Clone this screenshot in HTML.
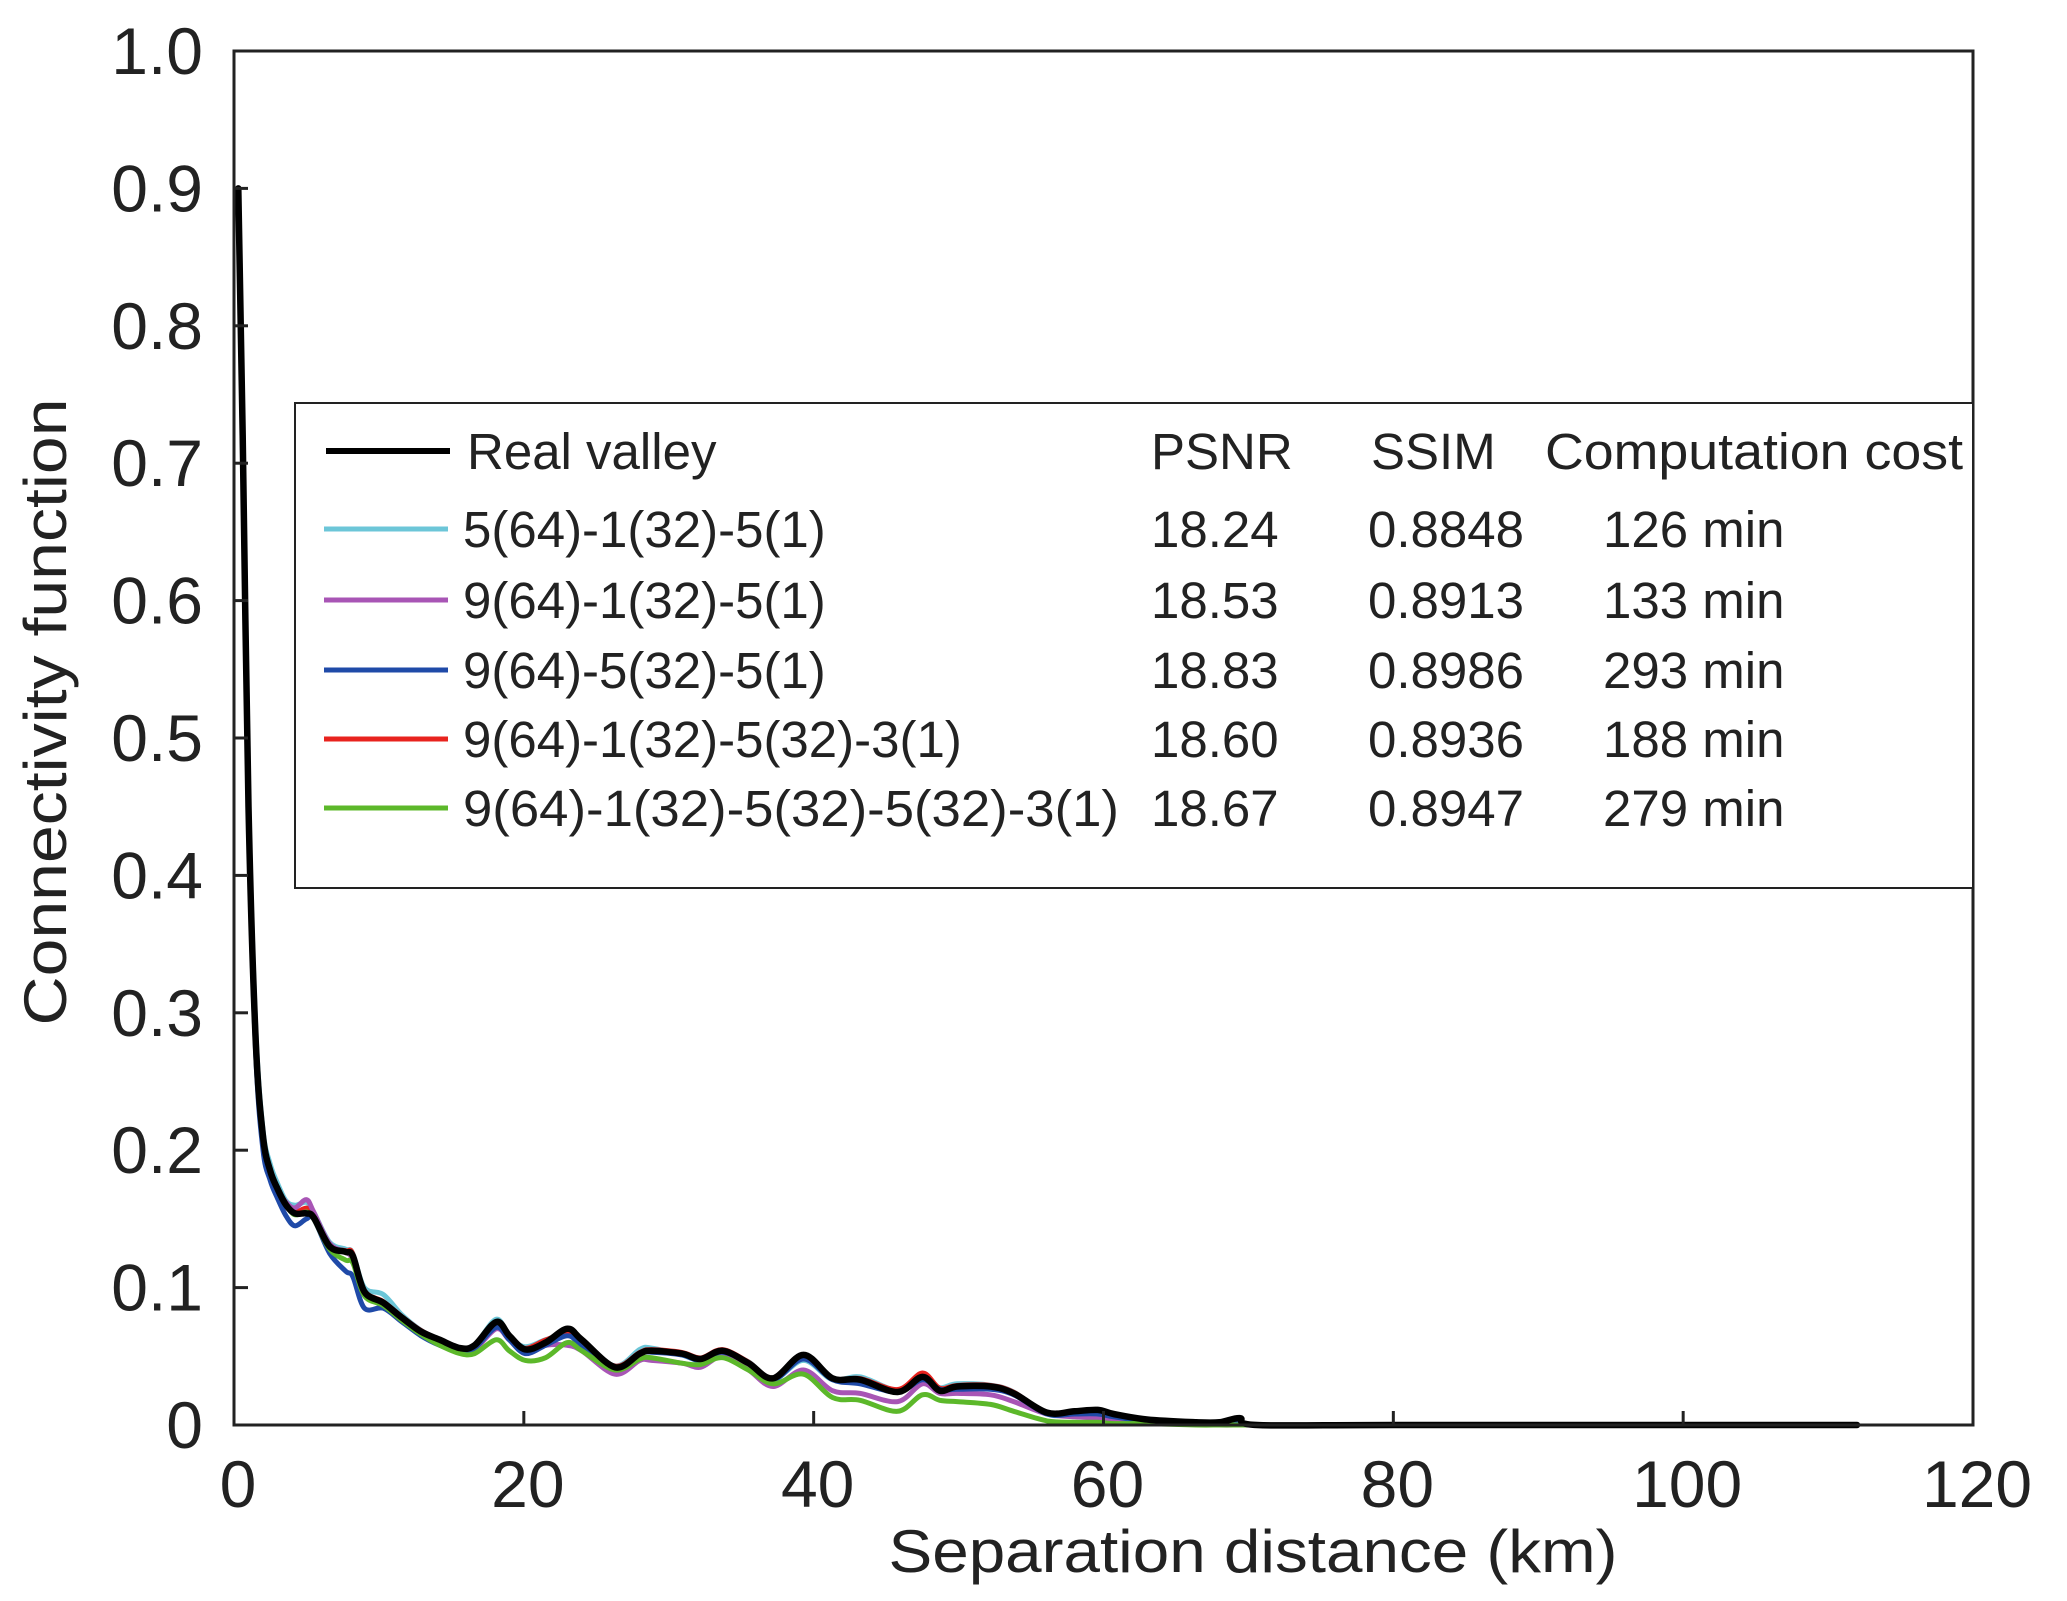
<!DOCTYPE html>
<html><head><meta charset="utf-8"><style>
html,body{margin:0;padding:0;background:#fff;}
svg{display:block;font-family:"Liberation Sans",sans-serif;}
</style></head><body>
<svg id="chart" width="2067" height="1601" viewBox="0 0 2067 1601" xmlns="http://www.w3.org/2000/svg">
<rect x="0" y="0" width="2067" height="1601" fill="#fff"/>
<g id="series"></g>
<rect x="234" y="51" width="1739" height="1374" fill="none" stroke="#222" stroke-width="3"/>
<g id="ticks"></g>
<text x="1253" y="1572" font-size="60" text-anchor="middle" textLength="729" lengthAdjust="spacingAndGlyphs" fill="#222">Separation distance (km)</text>
<text transform="translate(66,712) rotate(-90)" font-size="60" text-anchor="middle" textLength="627" lengthAdjust="spacingAndGlyphs" fill="#222">Connectivity function</text>
<g>
<rect x="295" y="403" width="1678" height="485" fill="#fff" stroke="#222" stroke-width="2"/>
<g font-size="51" fill="#222">
<line x1="326" y1="451" x2="450" y2="451" stroke="#000" stroke-width="6"/>
<text x="467" y="469">Real valley</text>
<text x="1151" y="469">PSNR</text>
<text x="1371" y="469">SSIM</text>
<text x="1545" y="469" textLength="418" lengthAdjust="spacingAndGlyphs">Computation cost</text>

<line x1="324" y1="529" x2="448" y2="529" stroke="#6cc6d8" stroke-width="5"/>
<text x="463" y="547">5(64)-1(32)-5(1)</text>
<text x="1151" y="547">18.24</text>
<text x="1368" y="547">0.8848</text>
<text x="1603" y="547">126 min</text>

<line x1="324" y1="600" x2="448" y2="600" stroke="#a855b5" stroke-width="5"/>
<text x="463" y="618">9(64)-1(32)-5(1)</text>
<text x="1151" y="618">18.53</text>
<text x="1368" y="618">0.8913</text>
<text x="1603" y="618">133 min</text>

<line x1="324" y1="670" x2="448" y2="670" stroke="#1f4aa8" stroke-width="5"/>
<text x="463" y="688">9(64)-5(32)-5(1)</text>
<text x="1151" y="688">18.83</text>
<text x="1368" y="688">0.8986</text>
<text x="1603" y="688">293 min</text>

<line x1="324" y1="739" x2="448" y2="739" stroke="#e8231e" stroke-width="5"/>
<text x="463" y="757">9(64)-1(32)-5(32)-3(1)</text>
<text x="1151" y="757">18.60</text>
<text x="1368" y="757">0.8936</text>
<text x="1603" y="757">188 min</text>

<line x1="324" y1="808" x2="448" y2="808" stroke="#5cb82a" stroke-width="5"/>
<text x="463" y="826" textLength="656" lengthAdjust="spacingAndGlyphs">9(64)-1(32)-5(32)-5(32)-3(1)</text>
<text x="1151" y="826">18.67</text>
<text x="1368" y="826">0.8947</text>
<text x="1603" y="826">279 min</text>
</g>
</g>
</svg>
<script>
const xKm = [0.3,0.6,1,1.5,2,2.5,3,3.6,4.2,5,5.5,6.6,7.7,8.2,9,10.3,11.6,12.9,14.2,15.6,16.6,18.1,19,20.1,21.5,23,24,26.3,28,28.8,30.9,32.2,33.7,35.5,37.2,39.3,41.3,43.2,45.8,47.5,48.7,49.9,52.2,53.8,56.1,58,59.6,60.7,63,66.4,68,69.4,70.6,80,100,112];
const cyanVals = [0.9,0.72,0.46,0.29,0.215,0.19,0.176,0.163,0.16,0.162,0.155,0.133,0.128,0.125,0.1,0.095,0.08,0.069,0.062,0.055,0.058,0.077,0.064,0.057,0.062,0.066,0.06,0.043,0.055,0.056,0.051,0.047,0.053,0.046,0.033,0.047,0.033,0.035,0.025,0.032,0.027,0.03,0.029,0.024,0.008,0.008,0.009,0.006,0.003,0.001,0.001,0.003,0,0,0,0];
const purpleVals = [0.9,0.72,0.45,0.28,0.21,0.185,0.172,0.162,0.158,0.164,0.155,0.132,0.126,0.12,0.095,0.088,0.077,0.066,0.06,0.054,0.055,0.07,0.062,0.054,0.058,0.058,0.054,0.037,0.047,0.047,0.045,0.042,0.05,0.04,0.028,0.04,0.025,0.023,0.017,0.03,0.023,0.023,0.022,0.017,0.008,0.006,0.005,0.004,0.003,0.001,0,0,0,0,0,0];
const blueVals = [0.9,0.7,0.44,0.27,0.2,0.178,0.165,0.152,0.145,0.15,0.15,0.125,0.112,0.108,0.085,0.085,0.075,0.065,0.058,0.053,0.056,0.071,0.062,0.052,0.058,0.065,0.058,0.042,0.052,0.053,0.051,0.047,0.053,0.045,0.033,0.048,0.033,0.03,0.024,0.033,0.026,0.026,0.026,0.022,0.008,0.008,0.008,0.006,0.003,0.001,0.001,0.003,0,0,0,0];
const redVals = [0.9,0.72,0.45,0.28,0.21,0.186,0.173,0.16,0.155,0.158,0.153,0.131,0.127,0.125,0.098,0.09,0.079,0.069,0.062,0.056,0.058,0.073,0.064,0.056,0.062,0.067,0.06,0.043,0.053,0.055,0.053,0.049,0.055,0.046,0.034,0.049,0.034,0.034,0.026,0.038,0.027,0.029,0.029,0.024,0.009,0.01,0.01,0.007,0.003,0.001,0.001,0.004,0,0,0,0];
const greenVals = [0.9,0.72,0.45,0.28,0.21,0.185,0.172,0.16,0.153,0.155,0.15,0.128,0.12,0.118,0.094,0.087,0.076,0.066,0.058,0.052,0.052,0.062,0.054,0.047,0.049,0.06,0.054,0.04,0.048,0.049,0.045,0.044,0.049,0.04,0.03,0.037,0.02,0.018,0.01,0.022,0.018,0.017,0.015,0.01,0.003,0.002,0.002,0.001,0.001,0,0,0,0,0,0,0];
const blackVals = [0.9,0.72,0.45,0.28,0.21,0.185,0.172,0.16,0.154,0.154,0.151,0.13,0.126,0.123,0.097,0.089,0.078,0.068,0.062,0.056,0.058,0.075,0.065,0.055,0.06,0.07,0.062,0.042,0.052,0.054,0.052,0.048,0.054,0.045,0.034,0.051,0.034,0.033,0.024,0.035,0.025,0.028,0.028,0.023,0.009,0.01,0.011,0.008,0.004,0.002,0.002,0.005,0,0,0,0];
const xTicks = [0,20,40,60,80,100,120];
const yTicks = [0,0.1,0.2,0.3,0.4,0.5,0.6,0.7,0.8,0.9,1.0];
const yTickLabels = ["0","0.1","0.2","0.3","0.4","0.5","0.6","0.7","0.8","0.9","1.0"];

const X0=234, X1=1973, Y0=1425, Y1=51;
function sx(v){return X0+(v/120)*(X1-X0);}
function sy(v){return Y0-(v/1)*(Y0-Y1);}
const NS="http://www.w3.org/2000/svg";
function pathD(vals){
  const p=xKm.map((x,i)=>[sx(x),sy(vals[i])]);
  let d="M"+p[0][0].toFixed(1)+","+p[0][1].toFixed(1);
  for(let i=0;i<p.length-1;i++){
    const a=p[Math.max(0,i-1)],b=p[i],c=p[i+1],e=p[Math.min(p.length-1,i+2)];
    const c1=[b[0]+(c[0]-a[0])/6,b[1]+(c[1]-a[1])/6];
    const c2=[c[0]-(e[0]-b[0])/6,c[1]-(e[1]-b[1])/6];
    d+=" C"+c1[0].toFixed(1)+","+c1[1].toFixed(1)+" "+c2[0].toFixed(1)+","+c2[1].toFixed(1)+" "+c[0].toFixed(1)+","+c[1].toFixed(1);
  }
  return d;
}
const sg=document.getElementById("series");
function addSeries(vals,color,w,name){
  const el=document.createElementNS(NS,"path");
  el.setAttribute("d",pathD(vals));
  el.setAttribute("fill","none");
  el.setAttribute("stroke",color);
  el.setAttribute("stroke-width",w);
  el.setAttribute("stroke-linejoin","round");
  el.setAttribute("stroke-linecap","round");
  
  
  sg.appendChild(el);
}
addSeries(cyanVals,"#6cc6d8",5,"series-5-64-1-32-5-1");
addSeries(redVals,"#e8231e",4.5,"series-9-64-1-32-5-32-3-1");
addSeries(purpleVals,"#a855b5",5,"series-9-64-1-32-5-1");
addSeries(blueVals,"#1f4aa8",5,"series-9-64-5-32-5-1");
addSeries(greenVals,"#5cb82a",5,"series-9-64-1-32-5-32-5-32-3-1");
addSeries(blackVals,"#000",6.5,"series-real-valley");

const tg=document.getElementById("ticks");
xTicks.forEach(v=>{
  const x=sx(v);
  if(v>0&&v<120){
    const t=document.createElementNS(NS,"line");
    t.setAttribute("x1",x);t.setAttribute("x2",x);
    t.setAttribute("y1",Y0);t.setAttribute("y2",Y0-14);
    t.setAttribute("stroke","#222");t.setAttribute("stroke-width","3");
    
    
    tg.appendChild(t);
  }
  const l=document.createElementNS(NS,"text");
  l.setAttribute("x",x+4);l.setAttribute("y",1507);
  l.setAttribute("font-size","66");l.setAttribute("text-anchor","middle");l.setAttribute("fill","#222");
  l.textContent=String(v);
  
  
  tg.appendChild(l);
});
yTicks.forEach((v,i)=>{
  const y=sy(v);
  if(v>0&&v<1){
    const t=document.createElementNS(NS,"line");
    t.setAttribute("x1",X0);t.setAttribute("x2",X0+14);
    t.setAttribute("y1",y);t.setAttribute("y2",y);
    t.setAttribute("stroke","#222");t.setAttribute("stroke-width","3");
    
    
    tg.appendChild(t);
  }
  const l=document.createElementNS(NS,"text");
  l.setAttribute("x",203);l.setAttribute("y",y+23);
  l.setAttribute("font-size","66");l.setAttribute("text-anchor","end");l.setAttribute("fill","#222");
  l.textContent=yTickLabels[i];
  
  
  tg.appendChild(l);
});
</script>
</body></html>
